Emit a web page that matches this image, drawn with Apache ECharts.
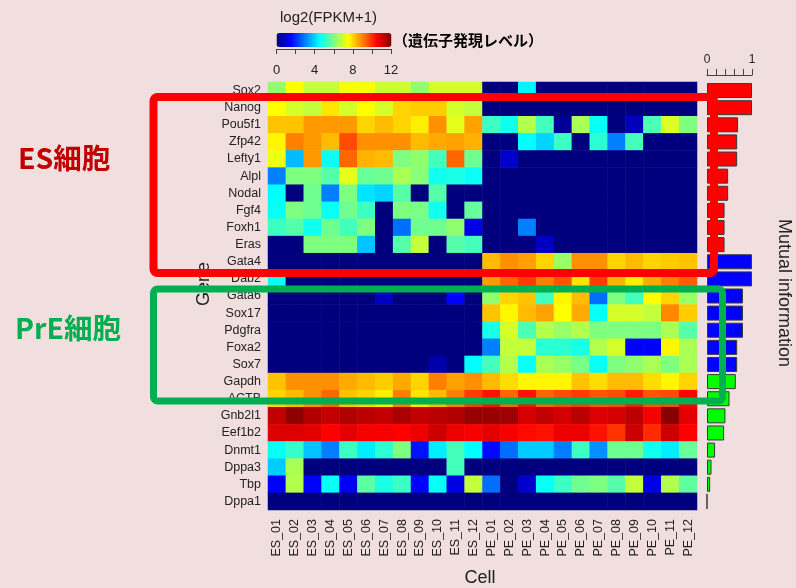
<!DOCTYPE html>
<html>
<head>
<meta charset="utf-8">
<script src="https://cdn.jsdelivr.net/npm/echarts@6/dist/echarts.min.js"></script>
<style>
  html, body { margin: 0; padding: 0; background: #f1dede; }
  #chart { width: 796px; height: 588px; }
</style>
</head>
<body>
<div id="chart"></div>
<script>
// Single-cell expression, log2(FPKM+1), of ES and PrE marker genes
const genes = ['Sox2','Nanog','Pou5f1','Zfp42','Lefty1','Alpl','Nodal','Fgf4','Foxh1','Eras',
  'Gata4','Dab2','Gata6','Sox17','Pdgfra','Foxa2','Sox7',
  'Gapdh','ACTB','Gnb2l1','Eef1b2','Dnmt1','Dppa3','Tbp','Dppa1'];

const cells = ['ES_01','ES_02','ES_03','ES_04','ES_05','ES_06','ES_07','ES_08','ES_09','ES_10','ES_11','ES_12',
  'PE_01','PE_02','PE_03','PE_04','PE_05','PE_06','PE_07','PE_08','PE_09','PE_10','PE_11','PE_12'];

// one row per gene, one column per cell
const expression = [
  [6.2,7.5,6.8,6.8,7.4,7.4,6.9,6.9,6.2,7.0,7.0,7.0, 0,0,4.4,0,0,0,0,0,0,0,0,0],
  [7.5,7.0,6.8,7.8,7.0,7.5,7.0,8.0,8.1,8.1,7.0,6.8, 0,0,0,0,0,0,0,0,0,0,0,0],
  [8.2,8.2,8.7,8.7,8.7,8.0,8.3,8.0,7.7,8.8,7.2,8.6, 5.2,4.7,6.6,5.3,0.3,6.5,4.6,0,0.7,5.4,7.1,6.0],
  [7.6,9.0,8.7,8.3,9.6,8.8,8.8,8.8,8.3,8.5,8.6,8.4, 0,0,4.5,4.0,5.2,0,5.0,3.0,5.3,0,0,0],
  [7.3,3.7,8.7,4.6,9.3,8.4,8.3,6.0,6.2,5.3,9.3,5.8, 0,0.9,0,0,0,0,0,0,0,0,0,0],
  [3.0,6.0,6.0,5.5,7.2,5.7,5.8,6.5,6.1,4.7,4.8,4.6, 0,0,0,0,0,0,0,0,0,0,0,0],
  [4.5,0,5.8,3.0,6.0,4.2,4.0,5.5,0,5.5,0,0, 0,0,0,0,0,0,0,0,0,0,0,0],
  [4.6,6.0,5.8,4.6,5.8,5.2,0,6.0,5.9,4.7,0,5.7, 0,0,0,0,0,0,0,0,0,0,0,0],
  [5.2,5.5,4.7,5.8,5.3,6.0,0,2.8,5.8,5.8,6.2,1.2, 0,0,3.0,0,0,0,0,0,0,0,0,0],
  [0,0,6.0,6.0,6.0,3.8,0,5.5,6.8,0,5.5,5.3, 0,0,0,0.8,0,0,0,0,0,0,0,0],
  [0,0,0,0,0,0,0,0,0,0,0,0, 8.3,8.8,8.6,8.0,6.3,8.8,8.8,8.0,8.3,8.0,8.1,8.2],
  [4.6,0,0,0,0,0,0,0,0,0,0,0, 8.7,9.3,9.8,9.0,9.5,7.8,9.8,8.4,7.7,8.5,9.0,9.4],
  [0,0,0,0,0,0,0.8,0,0,0,1.5,0, 6.2,8.0,8.2,5.3,7.6,8.3,2.8,6.0,5.3,7.5,8.0,6.3],
  [0,0,0,0,0,0,0,0,0,0,0,0, 8.2,7.6,8.3,8.6,7.5,8.5,4.6,7.0,7.0,6.8,8.9,8.1],
  [0,0,0,0,0,0,0,0,0,0,0,0, 4.8,7.0,5.4,6.6,6.3,6.6,6.0,6.0,6.0,6.0,6.5,5.5],
  [0,0,0,0,0,0,0,0,0,0,0,0, 3.0,6.8,6.8,5.0,5.0,4.8,6.6,7.0,1.5,1.5,7.6,6.5],
  [0,0,0,0,0,0,0,0,0,0.5,0,4.5, 5.3,6.6,4.6,6.5,6.3,5.9,4.6,6.0,6.2,6.5,6.0,6.5],
  [8.2,8.8,8.8,8.8,8.5,8.3,8.1,8.5,8.0,9.0,8.6,8.8, 8.3,7.9,7.6,7.6,7.6,8.2,7.9,8.3,8.3,7.9,7.6,8.0],
  [8.0,8.3,8.8,9.3,8.2,8.0,7.7,9.0,7.8,8.3,9.0,9.8, 10.3,9.3,10.3,9.3,9.6,9.8,9.5,9.6,10.2,9.5,9.6,10.5],
  [11.2,11.8,11.4,11.2,11.4,11.3,11.2,11.5,11.2,11.3,11.4,11.7, 11.7,11.6,11.0,11.2,11.0,11.3,10.9,11.0,11.3,10.6,11.9,10.8],
  [10.9,10.9,10.8,10.5,10.8,10.6,10.6,10.5,10.7,11.1,10.7,10.6, 10.8,10.6,10.4,10.3,10.7,10.7,10.3,9.9,11.1,10.0,11.1,10.5],
  [4.6,5.1,3.8,3.0,5.2,4.3,5.0,6.0,1.7,4.3,5.3,4.5, 1.6,2.8,3.9,3.9,3.0,5.2,3.2,5.8,5.8,4.7,4.3,5.7],
  [3.9,6.5,0,0,0,0,0,0,0,0,5.3,0, 0,0,0,0,0,0,0,0,0,0,0,0],
  [1.5,6.6,1.5,4.6,1.4,5.6,4.8,5.2,1.5,4.6,1.2,6.8, 2.8,0,0.9,4.6,5.2,5.8,6.0,5.5,6.8,1.2,6.6,5.6],
  [0,0,0,0,0,0,0,0,0,0,0,0, 0,0,0,0,0,0,0,0,0,0,0,0]
];

// mutual information per gene (0..1)
const mutualInfo = [1.0,1.0,0.69,0.67,0.67,0.47,0.47,0.39,0.39,0.39,
  1.0,1.0,0.8,0.8,0.8,0.67,0.67,
  0.64,0.5,0.41,0.38,0.18,0.1,0.07,0];

// marker group of each gene
const geneGroup = ['ES','ES','ES','ES','ES','ES','ES','ES','ES','ES',
  'PrE','PrE','PrE','PrE','PrE','PrE','PrE',
  'other','other','other','other','other','other','other','other'];
const groupColor = { ES: '#ff0000', PrE: '#0000ff', other: '#00ff00' };

// colour scale ticks
const scaleTicks = [0, 4, 8, 12];

const jet = ['#00007f','#0000ff','#007fff','#00ffff','#7fff7f','#ffff00','#ff7f00','#ff0000','#7f0000'];
const latin = '"Liberation Sans", Arial, Helvetica, sans-serif';
const cjk = '"Noto Sans CJK JP", "Noto Sans", sans-serif';

const heatData = [];
expression.forEach((row, r) => row.forEach((v, c) => heatData.push([c, r, v])));

const barData = mutualInfo.map((v, i) => ({
  value: v,
  itemStyle: { color: groupColor[geneGroup[i]] }
}));

const chart = echarts.init(document.getElementById('chart'), null, { renderer: 'canvas' });

chart.setOption({
  backgroundColor: '#f1dede',
  animation: false,
  textStyle: { fontFamily: latin },
  grid: [
    { left: 268, top: 82, width: 429, height: 428 },          // heatmap
    { left: 707, top: 82, width: 45, height: 428 },           // mutual information bars
    { left: 276.5, top: 48, width: 114.5, height: 1 }         // colour-scale ticks
  ],
  xAxis: [
    {
      type: 'category', gridIndex: 0, data: cells,
      axisLine: { show: false }, axisTick: { show: false }, splitLine: { show: false },
      axisLabel: { rotate: 90, margin: 9, fontSize: 12.5, color: '#222', fontFamily: latin }
    },
    {
      type: 'value', gridIndex: 1, position: 'top', offset: 7, min: 0, max: 1, interval: 0.2,
      splitLine: { show: false },
      axisLine: { show: true, lineStyle: { color: '#444', width: 1 } },
      axisTick: { show: true, length: 6, lineStyle: { color: '#444' } },
      axisLabel: {
        margin: 9, fontSize: 12, color: '#222',
        formatter: v => (v === 0 || v === 1) ? String(v) : ''
      }
    },
    {
      type: 'value', gridIndex: 2, position: 'bottom', min: 0, max: 12, interval: 2,
      splitLine: { show: false },
      axisLine: { show: true, lineStyle: { color: '#444', width: 1 } },
      axisTick: { show: true, length: 5, lineStyle: { color: '#444' } },
      axisLabel: {
        margin: 15, fontSize: 13, color: '#222',
        formatter: v => scaleTicks.includes(v) ? String(v) : ''
      }
    }
  ],
  yAxis: [
    {
      type: 'category', gridIndex: 0, data: genes, inverse: true,
      axisLine: { show: false }, axisTick: { show: false }, splitLine: { show: false },
      axisLabel: { margin: 7, fontSize: 12.5, color: '#222', fontFamily: latin }
    },
    {
      type: 'category', gridIndex: 1, data: genes, inverse: true,
      axisLine: { show: false }, axisTick: { show: false }, splitLine: { show: false },
      axisLabel: { show: false }
    },
    {
      type: 'value', gridIndex: 2, show: false
    }
  ],
  visualMap: {
    type: 'continuous', seriesIndex: 0, min: 0, max: 12,
    orient: 'horizontal', left: 276.5, top: 33,
    itemWidth: 14, itemHeight: 115, padding: 0,
    calculable: false, hoverLink: false, text: null,
    inRange: { color: jet }
  },
  series: [
    {
      type: 'heatmap', xAxisIndex: 0, yAxisIndex: 0, data: heatData,
      itemStyle: { borderWidth: 0 },
      emphasis: { disabled: true }
    },
    {
      type: 'bar', xAxisIndex: 1, yAxisIndex: 1, data: barData, barWidth: 15,
      itemStyle: { borderColor: '#3a3a3a', borderWidth: 1 },
      emphasis: { disabled: true }
    }
  ],
  graphic: [
    { type: 'text', left: 280, top: 10, style: { text: 'log2(FPKM+1)', font: '15px ' + latin, fill: '#222' } },
    { type: 'text', left: 393, top: 33, style: { text: '（遺伝子発現レベル）', fontFamily: cjk, fontWeight: 'bold', fontSize: 15, fill: '#000' } },
    { type: 'text', x: 204, y: 284, rotation: Math.PI / 2,
      style: { text: 'Gene', font: '18px ' + latin, fill: '#222', align: 'center', verticalAlign: 'middle' } },
    { type: 'text', x: 784, y: 293, rotation: -Math.PI / 2,
      style: { text: 'Mutual information', font: '18px ' + latin, fill: '#222', align: 'center', verticalAlign: 'middle' } },
    { type: 'text', x: 480, y: 578,
      style: { text: 'Cell', font: '18px ' + latin, fill: '#222', align: 'center', verticalAlign: 'middle' } },
    { type: 'rect', z: 100, shape: { x: 153.5, y: 97, width: 560.5, height: 176, r: 4 },
      style: { fill: 'none', stroke: '#ff0000', lineWidth: 8 } },
    { type: 'rect', z: 100, shape: { x: 153.5, y: 289, width: 569, height: 112, r: 4 },
      style: { fill: 'none', stroke: '#00b050', lineWidth: 7 } },
    { type: 'text', z: 100, x: 18, y: 158,
      style: { text: 'ES細胞', fontFamily: cjk, fontWeight: 'bold', fontSize: 28.5, fill: '#c00000', verticalAlign: 'middle' } },
    { type: 'text', z: 100, x: 15, y: 328,
      style: { text: 'PrE細胞', fontFamily: cjk, fontWeight: 'bold', fontSize: 28.5, fill: '#00b050', verticalAlign: 'middle' } }
  ]
});
</script>
</body>
</html>
